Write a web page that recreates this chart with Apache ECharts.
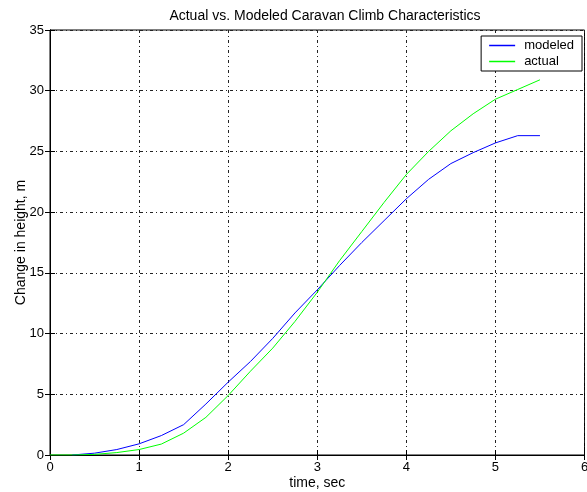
<!DOCTYPE html>
<html>
<head>
<meta charset="utf-8">
<script src="https://cdn.jsdelivr.net/npm/echarts@6/dist/echarts.min.js"></script>
<style>html,body{margin:0;padding:0;background:#fff;}#c{width:587px;height:492px;}</style>
</head>
<body>
<div id="c"></div>
<script>
const titleText = 'Actual vs. Modeled Caravan Climb Characteristics';
const xLabel = 'time, sec';
const yLabel = 'Change in height, m';
const time = [0, 0.25, 0.5, 0.75, 1, 1.25, 1.5, 1.75, 2, 2.25, 2.5, 2.75, 3, 3.25, 3.5, 3.75, 4, 4.25, 4.5, 4.75, 5, 5.25, 5.5];
const modeled = [null, 0, 0.15, 0.45, 0.92, 1.6, 2.5, 4.2, 6.0, 7.7, 9.6, 11.7, 13.6, 15.6, 17.5, 19.3, 21.1, 22.7, 24.0, 24.9, 25.7, 26.3, 26.3];
const actual = [0, 0, 0.05, 0.2, 0.45, 0.9, 1.8, 3.1, 4.9, 6.9, 8.8, 11.0, 13.4, 16.0, 18.4, 20.8, 23.1, 25.0, 26.7, 28.1, 29.3, 30.1, 30.9];
const seriesNames = ['modeled', 'actual'];
const seriesColors = ['#0000ff', '#00ff00'];

const pair = (xs, ys) => xs.map((x, i) => [x, ys[i]]).filter(p => p[1] !== null);
const font = 'Liberation Sans, Arial, sans-serif';
const gridLine = {show: true, lineStyle: {color: '#222', width: 1, type: [3, 3, 1, 3]}};
const chart = echarts.init(document.getElementById('c'), null, {renderer: 'canvas'});
chart.setOption({
  backgroundColor: '#fff',
  animation: false,
  color: seriesColors,
  textStyle: {fontFamily: font, color: '#000'},
  title: {text: titleText, left: 320, top: 4, textAlign: 'center',
    textStyle: {fontFamily: font, fontSize: 14, fontWeight: 'normal', color: '#000'}},
  grid: {left: 50, right: 2.5, top: 30, bottom: 37, show: true, borderColor: '#000', borderWidth: 1,
    backgroundColor: '#fff', containLabel: false, outerBoundsMode: 'none'},
  legend: {
    top: 36, right: 5, orient: 'vertical', backgroundColor: '#fff', borderColor: '#000', borderWidth: 1,
    borderRadius: 0, padding: [3, 8, 3, 8], itemGap: 3, itemWidth: 26, itemHeight: 1.5, icon: 'rect',
    textStyle: {fontFamily: font, fontSize: 13, color: '#000', padding: [0, 0, 0, 4]},
    data: seriesNames.map((n, i) => ({name: n, icon: 'rect', itemStyle: {color: seriesColors[i], borderWidth: 0}}))
  },
  xAxis: [{
    type: 'value', min: 0, max: 6, interval: 1,
    name: xLabel, nameLocation: 'middle', nameGap: 21, nameMoveOverlap: false,
    nameTextStyle: {fontFamily: font, fontSize: 14, color: '#000'},
    axisLine: {show: true, onZero: false, lineStyle: {color: '#000'}},
    axisTick: {show: true, inside: true, length: 5, lineStyle: {color: '#000'}},
    axisLabel: {fontFamily: font, fontSize: 13, color: '#000', margin: 6},
    splitLine: gridLine
  }, {
    type: 'value', min: 0, max: 6, interval: 1, position: 'top',
    axisLine: {show: true, lineStyle: {color: '#000'}},
    axisTick: {show: true, inside: true, length: 5, lineStyle: {color: '#000'}},
    axisLabel: {show: false}, splitLine: {show: false}
  }],
  yAxis: [{
    type: 'value', min: 0, max: 35, interval: 5,
    name: yLabel, nameLocation: 'middle', nameGap: 22, nameMoveOverlap: false,
    nameTextStyle: {fontFamily: font, fontSize: 14, color: '#000'},
    axisLine: {show: true, onZero: false, lineStyle: {color: '#000'}},
    axisTick: {show: true, inside: true, length: 5, lineStyle: {color: '#000'}},
    axisLabel: {fontFamily: font, fontSize: 13, color: '#000', margin: 6},
    splitLine: gridLine
  }, {
    type: 'value', min: 0, max: 35, interval: 5, position: 'right',
    axisLine: {show: true, lineStyle: {color: '#000'}},
    axisTick: {show: true, inside: true, length: 5, lineStyle: {color: '#000'}},
    axisLabel: {show: false}, splitLine: {show: false}
  }],
  series: [
    {name: seriesNames[0], type: 'line', data: pair(time, modeled), showSymbol: false, symbol: 'none',
      lineStyle: {color: seriesColors[0], width: 1}, itemStyle: {color: seriesColors[0]}},
    {name: seriesNames[1], type: 'line', data: pair(time, actual), showSymbol: false, symbol: 'none',
      lineStyle: {color: seriesColors[1], width: 1}, itemStyle: {color: seriesColors[1]}}
  ]
});
</script>
</body>
</html>
